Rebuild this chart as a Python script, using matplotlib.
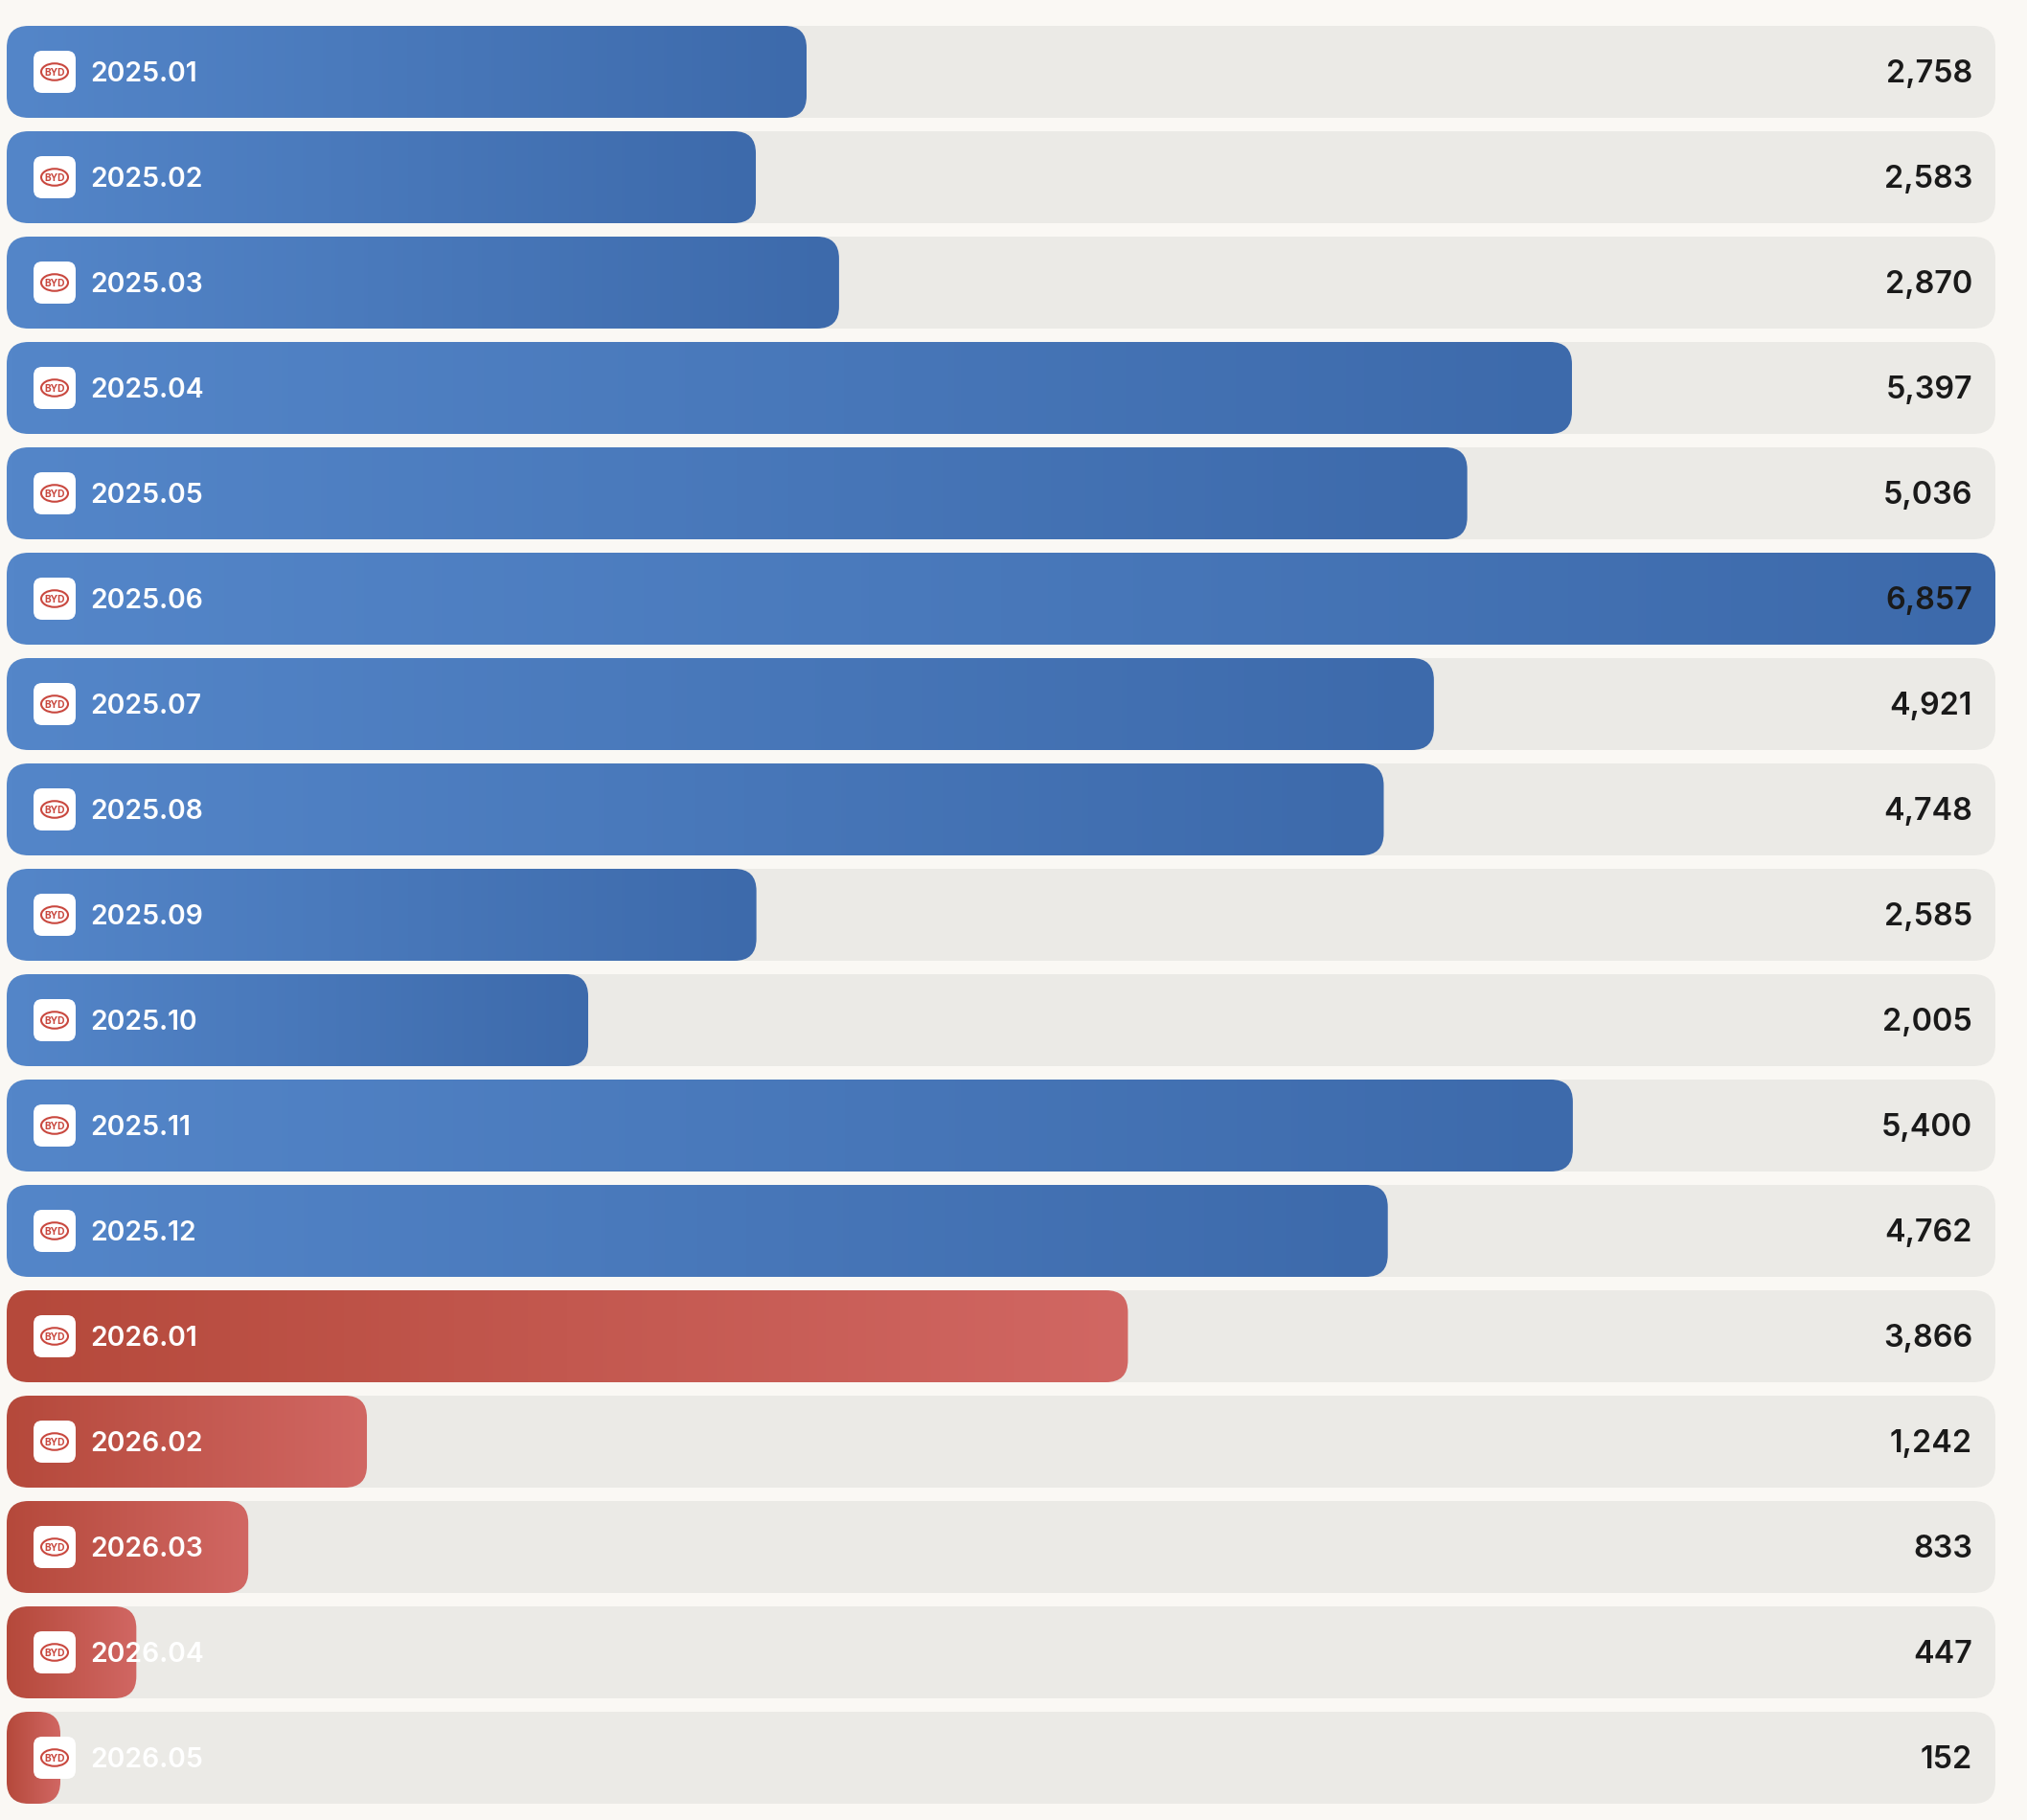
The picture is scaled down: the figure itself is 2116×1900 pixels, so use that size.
"""
Monthly BYD figures drawn as horizontal gradient bars on rounded tracks.
"""

import matplotlib
matplotlib.use("Agg")
import matplotlib.pyplot as plt
import numpy as np
from matplotlib.colors import LinearSegmentedColormap
from matplotlib.patches import Ellipse, FancyBboxPatch

months = ["2025.01", "2025.02", "2025.03", "2025.04", "2025.05", "2025.06",
          "2025.07", "2025.08", "2025.09", "2025.10", "2025.11", "2025.12",
          "2026.01", "2026.02", "2026.03", "2026.04", "2026.05"]
values = [2758, 2583, 2870, 5397, 5036, 6857,
          4921, 4748, 2585, 2005, 5400, 4762,
          3866, 1242, 833, 447, 152]

FIG_W, FIG_H = 2116, 1900
LEFT, RIGHT = 7, 2083      # track edges, px
TOP, PITCH = 27, 110       # first row top and row spacing, px
ROW_H = 96
RADIUS = 23                # matplotlib's round box uses quadratic corners, so a bit over 20
MIN_BAR = 56               # bars never get narrower than this, px

BG = "#FAF8F4"
TRACK = "#EBEAE6"
BLUE = LinearSegmentedColormap.from_list("blue", ["#5486C9", "#3D6AAB"])
RED = LinearSegmentedColormap.from_list("red", ["#B5493B", "#D16763"])
LOGO_RED = "#C9483F"

plt.rcParams["font.family"] = ["Inter", "Liberation Sans", "DejaVu Sans"]

fig = plt.figure(figsize=(FIG_W / 100, FIG_H / 100), dpi=100, facecolor=BG)
ax = fig.add_axes([0, 0, 1, 1])

# x axis runs in value units, y axis in row units
x_per_px = max(values) / (RIGHT - LEFT)
y_per_px = 1 / PITCH
ax.set_xlim(-LEFT * x_per_px, (FIG_W - LEFT) * x_per_px)
ax.set_ylim((FIG_H - TOP) * y_per_px, -TOP * y_per_px)
ax.axis("off")
aspect = y_per_px / x_per_px


def rounded(x0, y0, w_px, h_px, r_px, color, zorder):
    """Add a rounded box whose corners stay circular on screen."""
    box = FancyBboxPatch((x0, y0), w_px * x_per_px, h_px * y_per_px,
                         boxstyle=f"round,pad=0,rounding_size={r_px * x_per_px}",
                         mutation_aspect=aspect, facecolor=color,
                         edgecolor="none", zorder=zorder)
    ax.add_patch(box)
    return box


gradient = np.linspace(0, 1, 256).reshape(1, -1)

for i, (month, value) in enumerate(zip(months, values)):
    rounded(0, i, RIGHT - LEFT, ROW_H, RADIUS, TRACK, 1)

    # bar: gradient image clipped to a rounded box
    width = max(value, MIN_BAR * x_per_px)
    clip = rounded(0, i, width / x_per_px, ROW_H, RADIUS, "none", 2)
    im = ax.imshow(gradient, aspect="auto", zorder=2,
                   cmap=BLUE if month.startswith("2025") else RED,
                   extent=(0, width, i + ROW_H * y_per_px, i))
    im.set_clip_path(clip)

    # logo tile
    mid = i + ROW_H / 2 * y_per_px
    rounded(28 * x_per_px, mid - 22 * y_per_px, 44, 44, 9, "white", 3)
    ax.add_patch(Ellipse((50 * x_per_px, mid), 28 * x_per_px, 17.5 * y_per_px,
                         facecolor="none", edgecolor=LOGO_RED, linewidth=1.5, zorder=4))
    ax.text(50 * x_per_px, mid, "BYD", color=LOGO_RED, fontsize=7.4, fontweight="bold",
            ha="center", va="center_baseline", zorder=4)

    text_y = mid - 0.8 * y_per_px
    ax.text(87.5 * x_per_px, text_y, month, color="white", fontsize=20.4, fontweight="semibold",
            ha="left", va="center_baseline", zorder=5)
    ax.text((2059 - LEFT) * x_per_px, text_y, f"{value:,}", color="#1A1A1A", fontsize=23.3,
            fontweight="semibold", ha="right", va="center_baseline", zorder=5)

ax.set_xlim(-LEFT * x_per_px, (FIG_W - LEFT) * x_per_px)
ax.set_ylim((FIG_H - TOP) * y_per_px, -TOP * y_per_px)

fig.savefig("out.png", dpi=100, facecolor=BG)
